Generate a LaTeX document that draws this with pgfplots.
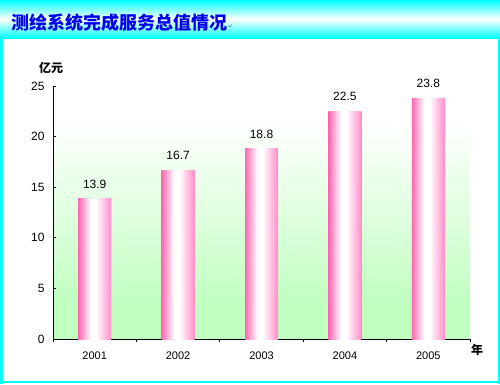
\documentclass[border=0pt]{standalone}
\usepackage{pgfplots}
\pgfplotsset{compat=1.18}
\usepackage{fontspec}
\setmainfont{Liberation Sans}
\newfontfamily\cjk{Noto Sans CJK SC}
\newfontfamily\sym{DejaVu Sans}
\definecolor{cyanb}{RGB}{0,255,255}
\definecolor{gbg}{RGB}{192,255,192}
\definecolor{pinkb}{RGB}{255,102,178}
\definecolor{pinkc}{RGB}{255,140,200}
\definecolor{titleblue}{RGB}{0,0,235}
\pgfdeclareverticalshading{plotbg}{100bp}{color(0bp)=(gbg); color(32bp)=(gbg); color(68bp)=(white); color(100bp)=(white)}
\pgfdeclarehorizontalshading{barshade}{100bp}{color(0bp)=(pinkb); color(25bp)=(pinkb); color(44bp)=(white); color(52bp)=(white); color(75bp)=(pinkc); color(100bp)=(pinkc)}
\pgfplotsset{
  mybar/.style={ybar, bar width=33pt, bar shift=0pt, draw=none, shading=barshade,
  nodes near coords={\pgfmathprintnumber[fixed,precision=1,fixed zerofill]{\pgfplotspointmeta}},
  nodes near coords style={font=\fontsize{12}{12}\selectfont, anchor=south, inner sep=0pt, yshift=10pt, text=black}}
}
\begin{document}
\begin{tikzpicture}[x=1pt,y=1pt]
\useasboundingbox (0,0) rectangle (500,384);
\fill[white] (0,0) rectangle (500,384);
\shade[top color=cyanb, bottom color=cyanb, middle color=white] (0,346) rectangle (500,384);
\fill[cyanb] (0,0) rectangle (3,346);
\fill[cyanb] (498,0) rectangle (500,346);
\fill[cyanb] (0,1) rectangle (500,3.5);
\node[anchor=west, inner sep=0pt, text=titleblue, font=\fontsize{18}{18}\selectfont\cjk\bfseries] at (11,361) {测绘系统完成服务总值情况};
\node[anchor=south west, inner sep=0pt, text=gray, font=\fontsize{6}{6}\selectfont\sym] at (228,355) {↵};
\begin{axis}[
  at={(53pt,45pt)}, anchor=south west,
  scale only axis, width=417pt, height=253pt,
  xmin=-0.5, xmax=4.5, ymin=0, ymax=25,
  axis x line*=bottom, axis y line*=left,
  axis line style={-, black, line width=0.8pt},
  axis background/.style={shading=plotbg},
  xtick={0,1,2,3,4},
  xticklabels={2001,2002,2003,2004,2005},
  major x tick style={draw=none},
  minor xtick={-0.5,0.5,1.5,2.5,3.5,4.5},
  minor x tick style={black, line width=0.8pt},
  minor tick length=3pt,
  ytick={0,5,10,15,20,25},
  major tick length=3pt,
  ytick style={black, line width=0.8pt, xshift=3pt},
  tick align=outside,
  /pgf/number format/assume math mode=true,
  xticklabel style={font=\fontsize{11}{11}\selectfont, yshift=-6pt},
  yticklabel style={font=\fontsize{12}{12}\selectfont, xshift=-2pt},
  clip=false,
]
\addplot[mybar] coordinates {(0,13.9)};
\addplot[mybar] coordinates {(1,16.7)};
\addplot[mybar] coordinates {(2,18.8)};
\addplot[mybar] coordinates {(3,22.5)};
\addplot[mybar] coordinates {(4,23.8)};
\end{axis}
\node[font=\fontsize{12}{12}\selectfont\cjk\bfseries] at (51,316) {亿元};
\node[font=\fontsize{12}{12}\selectfont\cjk\bfseries] at (477,34) {年};
\end{tikzpicture}
\end{document}
